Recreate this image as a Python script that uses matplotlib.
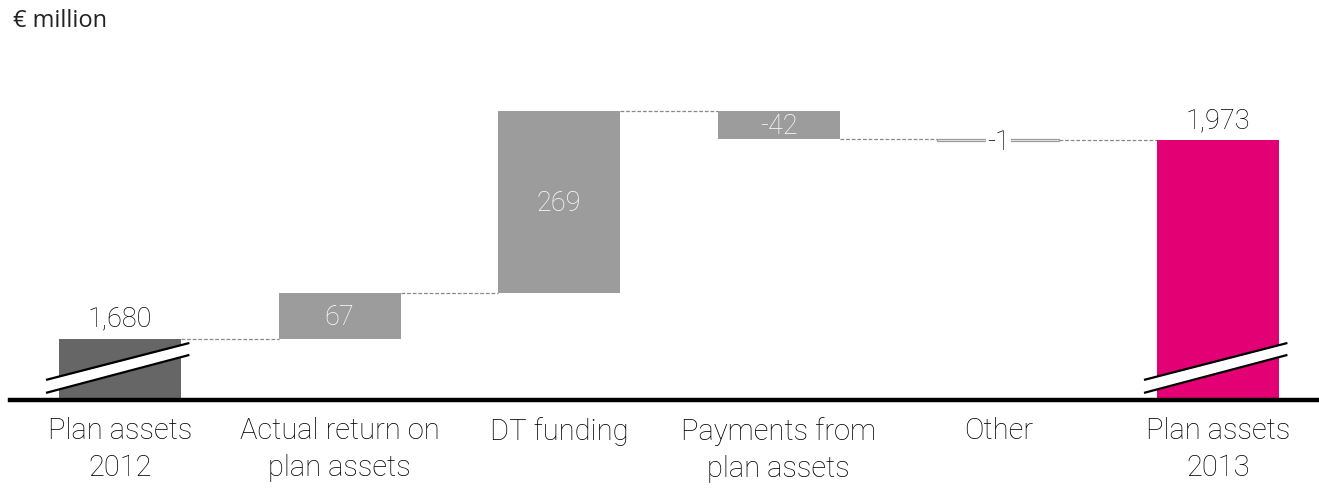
import matplotlib
matplotlib.use("Agg")
import matplotlib.pyplot as plt
import numpy as np

categories = ["Plan assets\n2012", "Actual return on\nplan assets", "DT funding",
              "Payments from\nplan assets", "Other", "Plan assets\n2013"]
start_value = 1680
changes = [67, 269, -42, -1]
end_value = 1973
labels = ["1,680", "67", "269", "-42", "-1", "1,973"]

DARK = "#666666"
GREY = "#9c9c9c"
MAGENTA = "#e20074"
FONT = "Roboto"
WEIGHT = "light"

# waterfall geometry
bottoms = [0.0]
heights = [float(start_value)]
level = float(start_value)
for c in changes:
    lo = min(level, level + c)
    bottoms.append(lo)
    heights.append(abs(c))
    level += c
bottoms.append(0.0)
heights.append(float(end_value))
tops = [b + h for b, h in zip(bottoms, heights)]

x = np.arange(len(categories))
width = 0.556
y0, y1 = 1590.0, 2179.3

fig = plt.figure(figsize=(13.19, 4.9), dpi=100)
ax = fig.add_axes([0, 90 / 490, 1, 400 / 490])
ax.set_xlim(-0.5464, 5.4599)
ax.set_ylim(y0, y1)

colors = [DARK, GREY, GREY, GREY, "#d9d9d9", MAGENTA]
for i in range(len(x)):
    if i in (0, len(x) - 1):
        ax.bar(x[i], heights[i], width=width, bottom=0, color=colors[i], zorder=2)
    elif i == 4:
        ax.bar(x[i], max(heights[i], 3), width=width, bottom=bottoms[i] - 1,
               color="#f4f4f4", edgecolor=GREY, linewidth=0.9, zorder=2)
    else:
        ax.bar(x[i], heights[i], width=width, bottom=bottoms[i], color=colors[i], zorder=2)

# connectors
levels = [start_value]
lv = start_value
for c in changes:
    lv += c
    levels.append(lv)
for i in range(len(x) - 1):
    ax.plot([x[i] + width / 2, x[i + 1] - width / 2], [levels[i], levels[i]],
            color="#888888", lw=0.9, ls=(0, (3, 1.5)), zorder=1)

# value labels
lab_kw = dict(fontsize=19.5, family=FONT, fontweight=WEIGHT)
ax.text(x[0], tops[0] + 9, labels[0], ha="center", va="bottom", color="black", **lab_kw)
ax.text(x[-1], tops[-1] + 9, labels[-1], ha="center", va="bottom", color="black", **lab_kw)
for i in (1, 2, 3):
    ax.text(x[i], bottoms[i] + heights[i] / 2 - 2, labels[i], ha="center", va="center",
            color="white", zorder=3, **lab_kw)
ax.text(x[4], tops[4] - 4, labels[4], ha="center", va="center", color="black", zorder=3,
        bbox=dict(facecolor="white", edgecolor="none", pad=1), **lab_kw)

# axis break marks
for i in (0, len(x) - 1):
    xl, xr = x[i] - 0.337, x[i] + 0.316
    upper = [y0 + 29.6, y0 + 84.0]
    lower = [y0 + 10.5, y0 + 66.4]
    ax.fill_between([xl, xr], lower, upper, color="white", zorder=4, lw=0)
    ax.plot([xl, xr], upper, color="black", lw=1.6, zorder=5, solid_capstyle="butt")
    ax.plot([xl, xr], lower, color="black", lw=1.6, zorder=5, solid_capstyle="butt")

for s in ("top", "right", "left"):
    ax.spines[s].set_visible(False)
ax.spines["bottom"].set_linewidth(3.2)
ax.spines["bottom"].set_bounds(-0.5464 + 10 / 219.6, 5.4599)
ax.set_yticks([])
ax.set_xticks(x)
ax.set_xticklabels(categories, fontsize=21, family=FONT, fontweight=WEIGHT,
                   linespacing=1.42, color="black")
ax.tick_params(axis="x", length=0, pad=12)

fig.text(13 / 1319, 1 - 21 / 490, "€ million", fontsize=17, family="Open Sans",
         ha="left", va="center", color="#222222")

fig.savefig("out.png", dpi=100)
